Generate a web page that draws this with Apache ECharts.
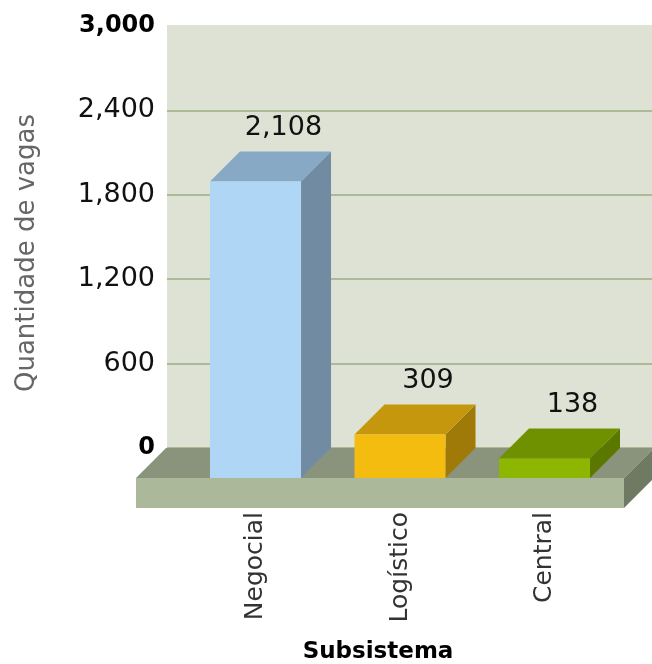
<!DOCTYPE html>
<html>
<head>
<meta charset="utf-8">
<script src="https://cdn.jsdelivr.net/npm/echarts@6/dist/echarts.min.js"></script>
<style>
  html, body { margin: 0; padding: 0; background: #ffffff; }
  #chart { width: 652px; height: 664px; }
</style>
</head>
<body>
<div id="chart"></div>
<script>
// Vagas por subsistema
const categories = ['Negocial', 'Logístico', 'Central'];
const vagas = [2108, 309, 138];
const valueTicks = [0, 600, 1200, 1800, 2400, 3000];

// face colours per bar: front, top, side
const barColors = [
  { front: '#B0D6F5', top: '#87A9C6', side: '#718CA2' },
  { front: '#F5BC10', top: '#C4970D', side: '#A07A08' },
  { front: '#8DB600', top: '#6F9100', side: '#5A7800' }
];

const DEPTH = 30;         // 3D offset of back faces (px)
const FONT = '"DejaVu Sans", Verdana, sans-serif';
const fmt = v => Number(v).toLocaleString('en-US');

const chart = echarts.init(document.getElementById('chart'), null, { renderer: 'canvas' });

const yMin = valueTicks[0];
const yMax = valueTicks[valueTicks.length - 1];
const yStep = valueTicks[1] - valueTicks[0];

function renderBox(params, api) {
  const i = api.value(0);
  const v = api.value(1);
  const base = api.coord([i, 0]);
  const top = api.coord([i, v]);
  const bw = api.size([1, 0])[0];
  const w = bw * 0.63;
  const x0 = base[0] - w / 2;
  const by = base[1];
  const ty = top[1];
  const D = DEPTH;
  const c = barColors[i];
  return {
    type: 'group',
    children: [
      {
        type: 'polygon',
        shape: { points: [[x0 + w, ty], [x0 + w + D, ty - D], [x0 + w + D, by - D], [x0 + w, by]] },
        style: { fill: c.side }
      },
      {
        type: 'polygon',
        shape: { points: [[x0, ty], [x0 + D, ty - D], [x0 + w + D, ty - D], [x0 + w, ty]] },
        style: { fill: c.top }
      },
      {
        type: 'rect',
        shape: { x: x0, y: ty, width: w, height: by - ty },
        style: { fill: c.front }
      },
      {
        type: 'text',
        x: x0 + w / 2 + D - 2,
        y: ty - D - 10,
        style: {
          text: fmt(v),
          align: 'center',
          verticalAlign: 'bottom',
          font: '27px ' + FONT,
          fill: '#111111'
        }
      }
    ]
  };
}

const option = {
  backgroundColor: '#ffffff',
  animation: false,
  grid: [
    // back wall, carries the value scale
    { left: 167, right: 0, top: 26, bottom: 216, show: true, backgroundColor: '#DDE2D5', borderWidth: 0, outerBoundsMode: 'none', containLabel: false },
    // front plane, where bars stand on the floor slab
    { left: 183.25, width: 433.5, top: 56, bottom: 186, outerBoundsMode: 'none', containLabel: false }
  ],
  xAxis: [
    { gridIndex: 0, type: 'category', data: categories, show: false },
    {
      gridIndex: 1,
      type: 'category',
      data: categories,
      axisLine: { show: false },
      axisTick: { show: false },
      axisLabel: {
        rotate: 90,
        margin: 34,
        color: '#333333',
        fontFamily: FONT,
        fontSize: 25
      },
      name: 'Subsistema',
      nameLocation: 'middle',
      nameGap: 163,
      nameTextStyle: {
        fontFamily: FONT,
        fontWeight: 'bold',
        fontSize: 23,
        color: '#000000',
        padding: [0, 44, 0, 0]
      }
    }
  ],
  yAxis: [
    {
      gridIndex: 0,
      type: 'value',
      min: yMin,
      max: yMax,
      interval: yStep,
      axisLine: { show: false },
      axisTick: { show: false },
      splitLine: {
        show: true,
        lineStyle: {
          width: 2,
          color: ['#ABBB98', '#ABBB98', '#ABBB98', '#ABBB98', '#ABBB98', '#DDE2D5']
        }
      },
      axisLabel: {
        margin: 12,
        color: '#111111',
        fontFamily: FONT,
        fontSize: 27,
        formatter: v => (v === yMin || v === yMax) ? '{b|' + fmt(v) + '}' : fmt(v),
        rich: {
          b: { fontFamily: FONT, fontSize: 24, fontWeight: 'bold', color: '#000000' }
        }
      },
      name: 'Quantidade de vagas',
      nameLocation: 'middle',
      nameGap: 127,
      nameRotate: 90,
      nameTextStyle: {
        fontFamily: FONT,
        fontSize: 26,
        color: '#666666',
        padding: [0, 32, 0, 0]
      }
    },
    { gridIndex: 1, type: 'value', min: yMin, max: yMax, interval: yStep, show: false }
  ],
  graphic: [
    // floor slab: top, front and right side
    { type: 'polygon', z: 1, shape: { points: [[166, 448], [136, 478], [624, 478], [654, 448]] }, style: { fill: '#8A937B' } },
    { type: 'rect', z: 1, shape: { x: 136, y: 478, width: 488, height: 30 }, style: { fill: '#ABB99A' } },
    { type: 'polygon', z: 1, shape: { points: [[624, 478], [654, 448], [654, 478], [624, 508]] }, style: { fill: '#6F7A63' } }
  ],
  series: [
    {
      type: 'custom',
      xAxisIndex: 1,
      yAxisIndex: 1,
      z: 5,
      renderItem: renderBox,
      data: vagas.map((v, i) => [i, v])
    }
  ]
};

chart.setOption(option);
</script>
</body>
</html>
